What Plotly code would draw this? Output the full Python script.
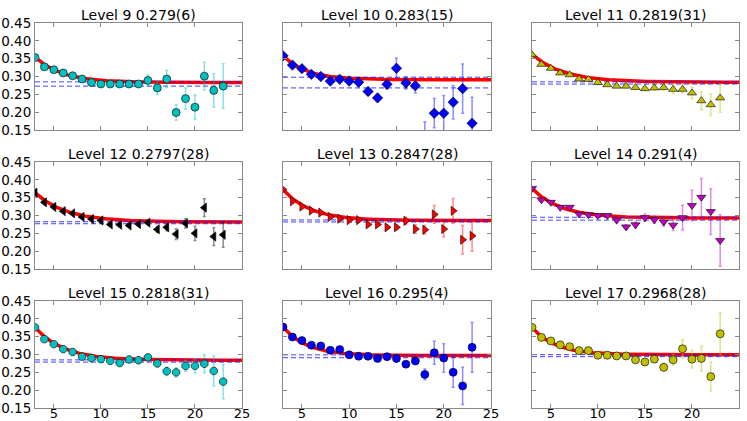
import numpy as np
import plotly.graph_objects as go

# ---------------- data ----------------
x_vals = list(range(3, 24))
levels = [9, 10, 11, 12, 13, 14, 15, 16, 17]
centers = [0.279, 0.283, 0.2819, 0.2797, 0.2847, 0.291, 0.2818, 0.295, 0.2968]
center_errs = [0.006, 0.015, 0.0031, 0.0028, 0.0028, 0.004, 0.0031, 0.004, 0.0028]
title_texts = ["0.279(6)", "0.283(15)", "0.2819(31)", "0.2797(28)", "0.2847(28)",
               "0.291(4)", "0.2818(31)", "0.295(4)", "0.2968(28)"]

y_L9 = [0.353, 0.327, 0.319, 0.310, 0.302, 0.293, 0.283, 0.279, 0.279, 0.279, 0.279,
        0.279, 0.289, 0.268, 0.293, 0.199, 0.238, 0.214, 0.301, 0.261, 0.273]
e_L9 = [0.002, 0.002, 0.002, 0.002, 0.003, 0.003, 0.003, 0.004, 0.004, 0.005, 0.006,
        0.008, 0.015, 0.018, 0.024, 0.022, 0.030, 0.034, 0.039, 0.047, 0.063]
y_L10 = [0.358, 0.332, 0.322, 0.306, 0.300, 0.287, 0.292, 0.287, 0.284, 0.258, 0.240,
         0.278, 0.323, 0.282, 0.274, 0.125, 0.197, 0.197, 0.228, 0.266, 0.169]
e_L10 = [0.002, 0.002, 0.003, 0.003, 0.003, 0.004, 0.004, 0.005, 0.006, 0.010, 0.010,
         0.012, 0.028, 0.017, 0.020, 0.048, 0.041, 0.050, 0.047, 0.069, 0.073]
y_L11 = [0.361, 0.334, 0.323, 0.310, 0.305, 0.293, 0.292, 0.283, 0.277, 0.273, 0.273,
         0.269, 0.266, 0.268, 0.269, 0.264, 0.264, 0.254, 0.232, 0.221, 0.240]
e_L11 = [0.002, 0.002, 0.002, 0.002, 0.002, 0.003, 0.003, 0.003, 0.003, 0.004, 0.004,
         0.005, 0.005, 0.006, 0.008, 0.012, 0.012, 0.016, 0.025, 0.030, 0.040]
y_L12 = [0.364, 0.337, 0.324, 0.312, 0.306, 0.296, 0.290, 0.286, 0.275, 0.274, 0.272,
         0.276, 0.280, 0.261, 0.267, 0.248, 0.278, 0.250, 0.322, 0.241, 0.246]
e_L12 = [0.002, 0.002, 0.002, 0.002, 0.002, 0.003, 0.003, 0.003, 0.003, 0.004, 0.004,
         0.005, 0.004, 0.008, 0.010, 0.015, 0.013, 0.020, 0.025, 0.025, 0.035]
y_L13 = [0.373, 0.340, 0.325, 0.314, 0.308, 0.296, 0.291, 0.287, 0.287, 0.275, 0.275,
         0.267, 0.267, 0.285, 0.262, 0.260, 0.303, 0.262, 0.313, 0.232, 0.243]
e_L13 = [0.002, 0.002, 0.002, 0.002, 0.003, 0.003, 0.003, 0.003, 0.004, 0.004, 0.005,
         0.006, 0.007, 0.010, 0.012, 0.012, 0.025, 0.022, 0.035, 0.040, 0.043]
y_L14 = [0.376, 0.344, 0.337, 0.323, 0.323, 0.304, 0.302, 0.300, 0.300, 0.287, 0.268,
         0.274, 0.294, 0.288, 0.282, 0.273, 0.294, 0.328, 0.351, 0.311, 0.230]
e_L14 = [0.002, 0.002, 0.002, 0.002, 0.003, 0.003, 0.003, 0.003, 0.004, 0.004, 0.006,
         0.008, 0.010, 0.010, 0.012, 0.015, 0.035, 0.043, 0.053, 0.064, 0.072]
y_L15 = [0.376, 0.343, 0.329, 0.315, 0.307, 0.294, 0.290, 0.287, 0.282, 0.276, 0.286,
         0.284, 0.292, 0.275, 0.253, 0.250, 0.268, 0.268, 0.274, 0.254, 0.224]
e_L15 = [0.002, 0.002, 0.002, 0.002, 0.002, 0.003, 0.003, 0.003, 0.003, 0.004, 0.004,
         0.005, 0.006, 0.010, 0.012, 0.013, 0.015, 0.020, 0.025, 0.042, 0.048]
y_L16 = [0.377, 0.349, 0.339, 0.326, 0.324, 0.312, 0.314, 0.299, 0.295, 0.295, 0.289,
         0.294, 0.289, 0.273, 0.282, 0.244, 0.305, 0.290, 0.250, 0.212, 0.320]
e_L16 = [0.002, 0.002, 0.002, 0.002, 0.003, 0.003, 0.003, 0.003, 0.004, 0.004, 0.005,
         0.007, 0.010, 0.008, 0.010, 0.015, 0.032, 0.040, 0.042, 0.052, 0.070]
y_L17 = [0.376, 0.348, 0.338, 0.327, 0.322, 0.311, 0.311, 0.298, 0.298, 0.296, 0.296,
         0.285, 0.279, 0.287, 0.264, 0.285, 0.316, 0.287, 0.289, 0.238, 0.358]
e_L17 = [0.002, 0.002, 0.002, 0.002, 0.003, 0.003, 0.003, 0.003, 0.004, 0.004, 0.005,
         0.006, 0.008, 0.008, 0.012, 0.015, 0.025, 0.025, 0.035, 0.040, 0.060]

# exponential fit parameters (asymptote, value at x=3, decay rate)
fit_asym = [0.283, 0.291, 0.284, 0.282, 0.286, 0.293, 0.284, 0.297, 0.299]
fit_start = [0.355, 0.358, 0.362, 0.364, 0.373, 0.376, 0.376, 0.377, 0.376]
fit_rate = [0.35, 0.40, 0.30, 0.30, 0.35, 0.33, 0.33, 0.40, 0.40]

y_ticks = [0.15, 0.20, 0.25, 0.30, 0.35, 0.40, 0.45]
y_tick_labels = ["0.15", "0.20", "0.25", "0.30", "0.35", "0.40", "0.45"]
x_ticks = [5, 10, 15, 20, 25]
x_tick_labels = ["5", "10", "15", "20", "25"]

# ---------------- styles ----------------
ys = [y_L9, y_L10, y_L11, y_L12, y_L13, y_L14, y_L15, y_L16, y_L17]
es = [e_L9, e_L10, e_L11, e_L12, e_L13, e_L14, e_L15, e_L16, e_L17]
colors = [(0, 191, 191), (0, 0, 255), (191, 191, 0), (0, 0, 0), (255, 0, 0),
          (191, 0, 191), (0, 191, 191), (0, 0, 255), (191, 191, 0)]
symbols = ["circle", "diamond", "triangle-up", "triangle-left", "triangle-right",
           "triangle-down", "octagon", "circle", "circle"]

W, H = 747, 421
col_px = [(35, 242), (283, 491), (532, 739)]
row_px = [(23, 130), (162, 269), (301, 408)]

fig = go.Figure()
FONT = "DejaVu Sans, Verdana, sans-serif"
fine_x = np.linspace(3, 25, 200)

annotations = []
for i in range(9):
    r, c = divmod(i, 3)
    ax = "" if i == 0 else str(i + 1)
    xref, yref = "x" + ax, "y" + ax
    x0, x1 = col_px[c]
    y0, y1 = row_px[r]
    fig.layout["xaxis" + ax] = dict(
        domain=[x0 / W, x1 / W], range=[3, 25], anchor=yref, automargin=False,
        tickvals=x_ticks, ticktext=x_tick_labels, showticklabels=(r == 2),
        ticks="inside", ticklen=4, tickcolor="#888888", mirror="allticks",
        showline=True, linecolor="#888888", linewidth=1, showgrid=False, zeroline=False,
        tickfont=dict(family=FONT, size=13, color="black"), ticklabelstandoff=-7,
    )
    fig.layout["yaxis" + ax] = dict(
        domain=[1 - y1 / H, 1 - y0 / H], range=[0.15, 0.45], anchor=xref, automargin=False,
        tickvals=y_ticks, ticktext=y_tick_labels, showticklabels=(c == 0),
        ticks="inside", ticklen=4, tickcolor="#888888", mirror="allticks",
        showline=True, linecolor="#888888", linewidth=1, showgrid=False, zeroline=False,
        tickfont=dict(family=FONT, size=13.5, color="black"),
    )
    # fit curve
    fit_y = fit_asym[i] + (fit_start[i] - fit_asym[i]) * np.exp(-fit_rate[i] * (fine_x - 3))
    fig.add_trace(go.Scatter(x=fine_x, y=fit_y, mode="lines", xaxis=xref, yaxis=yref,
                             line=dict(color="#ff0000", width=3.5), showlegend=False,
                             hoverinfo="skip"))
    # error band lines
    for v in (centers[i] + center_errs[i], centers[i] - center_errs[i]):
        fig.add_trace(go.Scatter(x=[3, 25], y=[v, v], mode="lines", xaxis=xref, yaxis=yref,
                                 line=dict(color="rgba(30,30,255,0.85)", width=1, dash="5px,3px"),
                                 showlegend=False, hoverinfo="skip"))
    rr, gg, bb = colors[i]
    fig.add_trace(go.Scatter(
        x=x_vals, y=ys[i], mode="markers", xaxis=xref, yaxis=yref, showlegend=False,
        marker=dict(symbol=symbols[i], size=8, color=f"rgb({rr},{gg},{bb})",
                    line=dict(color="black", width=0.6)),
        error_y=dict(type="data", array=es[i], visible=True,
                     color=f"rgba({rr},{gg},{bb},0.45)", thickness=1.5, width=1.5),
    ))
    annotations.append(dict(
        text=f"Level {levels[i]} {title_texts[i]}", xref="paper", yref="paper",
        x=(x0 + x1) / 2 / W, y=1 - y0 / H, xanchor="center", yanchor="bottom",
        yshift=-2, showarrow=False, font=dict(family=FONT, size=14, color="black"),
    ))

fig.update_layout(
    width=W, height=H, margin=dict(l=0, r=0, t=0, b=0),
    paper_bgcolor="white", plot_bgcolor="white", annotations=annotations,
    font=dict(family=FONT),
)
fig.write_html("out.html", config={"displayModeBar": False},
               post_script="document.body.style.margin='0';document.body.style.padding='0';")
